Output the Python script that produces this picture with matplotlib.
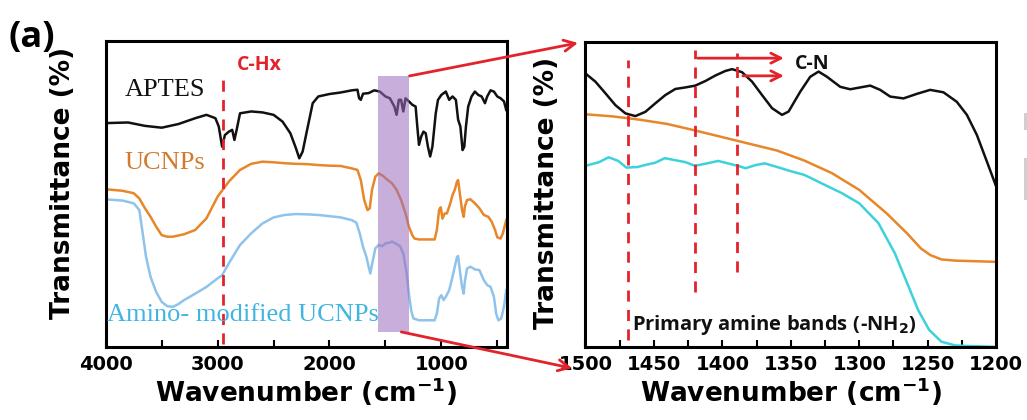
import matplotlib
matplotlib.use("Agg")
import matplotlib.pyplot as plt
from matplotlib.patches import Rectangle, ConnectionPatch
from matplotlib.ticker import MultipleLocator

plt.rcParams["font.family"] = ["DejaVu Sans"]
plt.rcParams["mathtext.fontset"] = "dejavusans"

# ---- full spectra (left panel), wavenumber in cm^-1, transmittance in a.u. ----
wn_aptes = [4000, 3800, 3650, 3500, 3350, 3200, 3100, 3020, 2990, 2960, 2935, 2900, 2870,
            2850, 2830, 2800, 2700, 2600, 2500, 2420, 2350, 2300, 2270, 2240, 2200, 2150,
            2100, 2000, 1900, 1800, 1750, 1735, 1720, 1700, 1650, 1600, 1550, 1500, 1460,
            1420, 1400, 1380, 1360, 1340, 1320, 1290, 1260, 1230, 1215, 1200, 1180, 1160,
            1140, 1120, 1100, 1080, 1050, 1030, 1000, 960, 930, 900, 870, 850, 830, 810,
            795, 780, 760, 730, 700, 670, 640, 610, 590, 560, 530, 500, 470, 440, 420]
t_aptes = [73.1, 73.3, 72.2, 71.6, 72.8, 74.7, 75.8, 74.7, 72.0, 65.4, 69.2, 70.3, 70.9,
           67.6, 70.9, 76.3, 76.9, 76.6, 75.8, 73.6, 69.8, 64.9, 61.6, 63.8, 70.9, 79.6,
           81.8, 82.6, 83.1, 83.8, 84.0, 81.2, 80.7, 82.7, 82.9, 83.8, 83.4, 81.8, 81.2,
           78.5, 75.8, 80.7, 80.7, 76.9, 81.2, 80.2, 79.1, 78.5, 72.0, 66.0, 68.7, 70.3,
           69.8, 65.4, 62.2, 65.4, 76.3, 80.7, 82.3, 83.4, 80.7, 81.8, 80.7, 74.2, 72.0,
           64.3, 65.4, 72.0, 78.5, 81.8, 83.4, 82.3, 81.8, 79.6, 81.8, 83.8, 83.4, 81.8,
           81.2, 80.2, 77.4]

wn_ucnp = [4000, 3850, 3750, 3700, 3650, 3600, 3550, 3500, 3450, 3400, 3300, 3200, 3100,
           3000, 2900, 2800, 2700, 2600, 2500, 2400, 2300, 2200, 2100, 2000, 1900, 1800,
           1750, 1720, 1690, 1660, 1640, 1620, 1590, 1560, 1520, 1480, 1440, 1400, 1360,
           1320, 1290, 1260, 1240, 1200, 1150, 1100, 1060, 1040, 1020, 1005, 990, 970, 950,
           920, 900, 880, 860, 850, 835, 815, 800, 790, 770, 740, 700, 660, 620, 580, 550,
           520, 500, 470, 450, 420]
t_ucnp = [51.5, 51.0, 50.2, 48.5, 45.3, 42.5, 39.3, 36.5, 36.0, 36.0, 36.8, 38.2, 42.0,
          49.1, 54.0, 57.8, 59.8, 60.5, 60.3, 60.0, 59.8, 59.7, 59.4, 59.2, 59.1, 58.3,
          57.8, 54.5, 48.0, 44.7, 45.3, 51.3, 55.6, 56.7, 55.8, 54.5, 53.4, 51.3, 48.0,
          43.6, 39.3, 36.5, 35.4, 35.1, 35.1, 35.1, 35.1, 38.2, 44.7, 45.6, 41.9, 43.6,
          43.6, 46.9, 49.6, 51.3, 54.0, 54.5, 50.2, 44.7, 42.5, 45.8, 48.0, 48.2, 46.9,
          45.3, 43.1, 42.5, 40.9, 38.2, 35.8, 35.4, 37.1, 41.4]

wn_amino = [4000, 3850, 3750, 3700, 3670, 3640, 3600, 3550, 3500, 3450, 3400, 3350, 3300,
            3200, 3100, 3000, 2960, 2900, 2800, 2700, 2600, 2500, 2400, 2300, 2200, 2100,
            2000, 1900, 1800, 1760, 1730, 1700, 1670, 1650, 1635, 1615, 1590, 1560, 1530,
            1500, 1470, 1440, 1400, 1370, 1340, 1310, 1290, 1270, 1250, 1200, 1150, 1100,
            1060, 1040, 1020, 1000, 980, 960, 930, 900, 880, 860, 850, 835, 815, 800, 790,
            770, 740, 700, 660, 620, 590, 560, 530, 510, 490, 465, 440, 420]
t_amino = [48.2, 47.8, 46.9, 44.7, 37.1, 29.4, 22.9, 18.0, 14.7, 13.3, 13.1, 14.0, 15.3,
           17.4, 19.6, 22.4, 23.4, 27.3, 33.3, 37.1, 40.3, 42.3, 43.1, 43.4, 43.3, 43.1,
           42.7, 42.3, 41.4, 40.6, 37.1, 32.7, 29.4, 26.2, 24.0, 27.8, 32.2, 33.3, 32.9,
           33.8, 34.0, 34.4, 33.6, 32.9, 30.5, 24.0, 17.4, 12.0, 9.3, 8.7, 8.7, 8.7,
           8.7, 10.9, 15.8, 16.9, 15.3, 16.4, 18.5, 22.9, 26.2, 29.4, 29.7, 25.1, 19.6,
           17.4, 21.3, 25.6, 26.2, 25.3, 25.1, 21.8, 20.2, 19.6, 16.4, 10.9, 8.7, 9.3,
           13.1, 18.5]

# ---- zoomed region 1500-1200 cm^-1 (right panel) ----
wn_aptes_z = [1500, 1492.7, 1485.4, 1478.1, 1470.8, 1463.5, 1456.2, 1448.9, 1441.6, 1434.3,
              1427, 1419.7, 1412.4, 1405.1, 1397.8, 1392.9, 1385.6, 1378.3, 1371, 1363.7,
              1356.4, 1351.6, 1343.1, 1335.8, 1329.7, 1323.6, 1313.9, 1306.6, 1299.3, 1292,
              1284.7, 1277.4, 1267.7, 1257.9, 1248.2, 1238.5, 1228.8, 1221.4, 1214.1,
              1206.8, 1200]
t_aptes_z = [89.7, 87.0, 83.2, 79.3, 76.6, 75.7, 77.1, 79.9, 82.6, 84.6,
             85.1, 85.7, 87.2, 89.0, 90.5, 91.1, 90.1, 87.0, 82.6, 78.3,
             76.1, 77.2, 83.7, 88.6, 90.3, 88.6, 85.3, 84.5, 85.1, 85.7,
             84.3, 82.1, 81.5, 83.0, 84.3, 83.5, 80.4, 76.1, 69.5,
             60.8, 52.6]

wn_ucnp_z = [1500, 1480, 1460, 1440, 1420, 1400, 1380, 1360, 1340, 1320, 1300, 1280, 1265,
             1255, 1248, 1240, 1230, 1200]
t_ucnp_z = [76.3, 75.6, 74.5, 73.1, 71.0, 68.8, 66.6, 64.4, 61.1, 57.0, 51.5, 43.8, 37.2,
            32.3, 30.1, 28.7, 28.3, 27.9]

wn_amino_z = [1500, 1490, 1483, 1476, 1470, 1462, 1456, 1449, 1442, 1434, 1427, 1420, 1411,
              1403, 1395, 1388, 1383, 1376, 1369, 1360, 1349, 1340, 1325, 1313, 1300, 1286,
              1274, 1264, 1257, 1249, 1240, 1230, 1220, 1200]
t_amino_z = [59.4, 60.6, 62.2, 61.0, 58.8, 59.0, 59.7, 60.4, 61.9, 61.2, 60.6, 59.4, 60.2,
             61.0, 60.1, 59.3, 58.6, 59.6, 60.2, 59.0, 57.5, 56.4, 53.1, 50.5, 47.1, 40.6,
             30.7, 19.8, 12.1, 5.6, 1.7, 0.5, 0.3, 0.0]

# marked bands
ch_band = 2950
amine_bands = [1469, 1420, 1389]
amine_tops = [94.2, 97.5, 96.4]
amine_bottoms = [2.2, 18.1, 24.6]
zoom_lo, zoom_hi = 1285, 1570

BLACK = "#111111"
ORANGE = "#e8862a"
LBLUE = "#8fc3ec"
CYAN = "#3dd2da"
RED = "#e3232b"

fig = plt.figure(figsize=(10.27, 4.20), dpi=100)
ax1 = fig.add_axes([0.103, 0.174, 0.391, 0.729])
ax2 = fig.add_axes([0.570, 0.174, 0.400, 0.726])

lw = 1.8
ax1.plot(wn_aptes, t_aptes, color=BLACK, lw=lw)
ax1.plot(wn_ucnp, t_ucnp, color=ORANGE, lw=lw)
ax1.plot(wn_amino, t_amino, color=LBLUE, lw=lw)
ax1.vlines(ch_band, 1.1, 87.8, colors=RED, linestyles=(0, (4, 3)), lw=2)
ax1.add_patch(Rectangle((zoom_hi, 4.9), zoom_lo - zoom_hi, 88.5 - 4.9,
                        facecolor="#9b6dbf", alpha=0.55, edgecolor="none", zorder=3))
ax1.set_xlim(4000, 410)
ax1.set_ylim(0, 100)

ax1.text(2826, 92.1, "C-Hx", color=RED, fontsize=14, fontweight="bold",
         family=["Open Sans", "DejaVu Sans"], va="center", ha="left")
ax1.text(3830, 84.0, "APTES", color=BLACK, fontsize=19, family="Liberation Serif",
         va="center", ha="left")
ax1.text(3830, 60.0, "UCNPs", color="#d27a2e", fontsize=19, family="Liberation Serif",
         va="center", ha="left")
ax1.text(3988, 10.4, "Amino- modified UCNPs", color="#40b5e2", fontsize=19,
         family="Liberation Serif", va="center", ha="left", zorder=4)

ax2.plot(wn_aptes_z, t_aptes_z, color=BLACK, lw=lw)
ax2.plot(wn_ucnp_z, t_ucnp_z, color=ORANGE, lw=lw)
ax2.plot(wn_amino_z, t_amino_z, color=CYAN, lw=lw)
for x, lo, hi in zip(amine_bands, amine_bottoms, amine_tops):
    ax2.vlines(x, lo, hi, colors=RED, linestyles=(0, (4, 3)), lw=2)
ax2.annotate("", xy=(1353, 94.7), xytext=(1420, 94.7),
             arrowprops=dict(arrowstyle="->", color=RED, lw=2, mutation_scale=18))
ax2.annotate("", xy=(1353, 88.9), xytext=(1387, 88.9),
             arrowprops=dict(arrowstyle="->", color=RED, lw=2, mutation_scale=18))
ax2.text(1347, 92.9, "C-N", color=BLACK, fontsize=14, fontweight="bold",
         family=["Open Sans", "DejaVu Sans"], va="center", ha="left")
ax2.text(1466, 7.1, r"Primary amine bands (-NH$\mathbf{_2}$)", color=BLACK, fontsize=14.5,
         fontweight="bold", family=["Open Sans", "DejaVu Sans"], va="center", ha="left")
ax2.set_xlim(1500, 1200)
ax2.set_ylim(0, 100)

for ax, major, minor in [(ax1, 1000, 500), (ax2, 50, 25)]:
    ax.xaxis.set_major_locator(MultipleLocator(major))
    ax.xaxis.set_minor_locator(MultipleLocator(minor))
    ax.set_yticks([])
    ax.tick_params(axis="x", which="both", direction="in", top=False, width=1.5,
                   labelsize=14, pad=6)
    ax.tick_params(axis="x", which="major", length=5)
    ax.tick_params(axis="x", which="minor", length=5)
    for lab in ax.get_xticklabels():
        lab.set_fontweight("bold")
    for sp in ax.spines.values():
        sp.set_linewidth(2.2)
    ax.set_ylabel("Transmittance (%)", fontsize=19, fontweight="bold")
    ax.set_xlabel(r"Wavenumber (cm$^{\mathbf{-1}}$)", fontsize=19, fontweight="bold",
                  labelpad=1)

ax1.yaxis.set_label_coords(-0.075, 0.535)
ax2.yaxis.set_label_coords(-0.062, 0.505)

# zoom connectors from the shaded band to the right panel
for ya, yb in [(88.5, 0.997), (4.9, -0.07)]:
    xa = zoom_lo if ya > 50 else 1358
    con = ConnectionPatch(xyA=(xa, ya), coordsA=ax1.transData,
                          xyB=(-0.018 if yb > 0.5 else -0.032, yb), coordsB=ax2.transAxes,
                          arrowstyle="->", color=RED, lw=2, mutation_scale=20)
    fig.add_artist(con)

fig.text(0.008, 0.91, "(a)", fontsize=26, fontweight="bold",
         family=["Open Sans", "DejaVu Sans"], va="center", ha="left")

# faint cropping marks at the right edge of the original figure
fig.add_artist(Rectangle((0.9975, 0.69), 0.0025, 0.04, transform=fig.transFigure,
                         facecolor="#cfcfcf", edgecolor="none"))
fig.add_artist(Rectangle((0.9975, 0.525), 0.0025, 0.10, transform=fig.transFigure,
                         facecolor="#cfcfcf", edgecolor="none"))

fig.savefig("out.png", dpi=100)
